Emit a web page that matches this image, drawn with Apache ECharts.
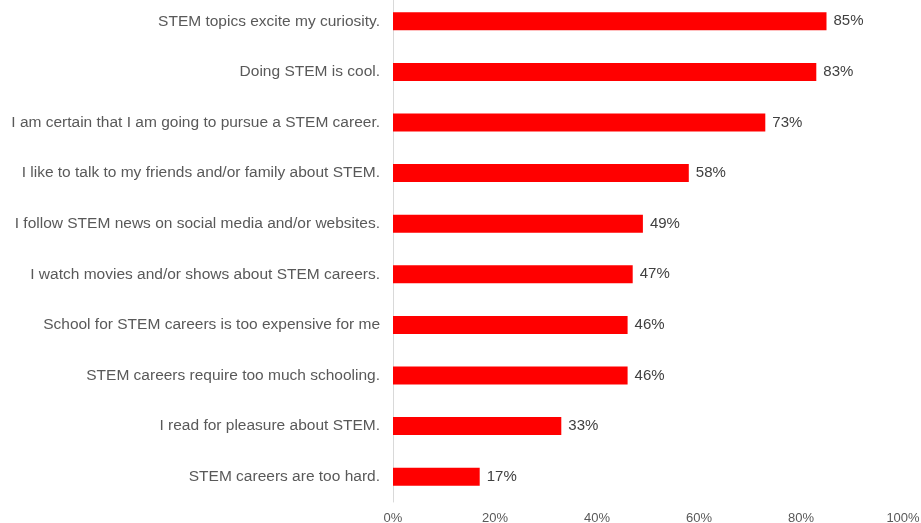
<!DOCTYPE html>
<html>
<head>
<meta charset="utf-8">
<script src="https://cdn.jsdelivr.net/npm/echarts@6/dist/echarts.min.js"></script>
<style>
    html, body { margin: 0; padding: 0; background: #fff; }
    #chart { width: 921px; height: 523px; }
</style>
</head>
<body>
<div id="chart"></div>
<script>
var categories = [
    "STEM topics excite my curiosity.",
    "Doing STEM is cool.",
    "I am certain that I am going to pursue a STEM career.",
    "I like to talk to my friends and/or family about STEM.",
    "I follow STEM news on social media and/or websites.",
    "I watch movies and/or shows about STEM careers.",
    "School for STEM careers is too expensive for me",
    "STEM careers require too much schooling.",
    "I read for pleasure about STEM.",
    "STEM careers are too hard."
];
var values = [85, 83, 73, 58, 49, 47, 46, 46, 33, 17];
var xTicks = [0, 20, 40, 60, 80, 100];

var myChart = echarts.init(document.getElementById("chart"));
myChart.setOption({
    animation: false,
    grid: { left: 393, right: 18, top: -4, bottom: 21, containLabel: false, outerBoundsMode: "none" },
    xAxis: {
        type: "value",
        min: xTicks[0],
        max: xTicks[xTicks.length - 1],
        interval: 20,
        axisLine: { show: false },
        axisTick: { show: false },
        splitLine: { show: false },
        axisLabel: {
            formatter: "{value}%",
            color: "#595959",
            fontFamily: "Liberation Sans",
            fontSize: 13,
            margin: 10
        }
    },
    yAxis: {
        type: "category",
        inverse: true,
        data: categories,
        axisLine: { show: true, lineStyle: { color: "#d9d9d9", width: 1 } },
        axisTick: { show: false },
        axisLabel: {
            color: "#595959",
            fontFamily: "Liberation Sans",
            fontSize: 15.5,
            margin: 13
        }
    },
    series: [{
        type: "bar",
        data: values,
        barWidth: 18,
        itemStyle: { color: "#ff0000" },
        label: {
            show: true,
            position: "right",
            distance: 7,
            formatter: "{c}%",
            color: "#404040",
            fontFamily: "Liberation Sans",
            fontSize: 15
        }
    }]
});
</script>
</body>
</html>
